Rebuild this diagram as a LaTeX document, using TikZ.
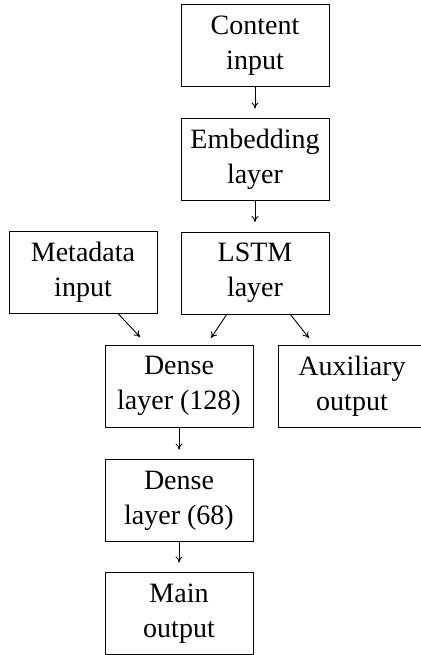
\documentclass[tikz,border=0pt]{standalone}
\usepackage{fontspec}
\setmainfont{Liberation Serif}
\usetikzlibrary{calc,arrows.meta}
\begin{document}
\begin{tikzpicture}[x=1pt,y=-1pt,
  layerbox/.style={draw,line width=1pt,minimum width=148pt,minimum height=82pt,inner sep=0pt,outer sep=0pt,align=center,font=\fontsize{28}{35}\selectfont},
  conn/.style={line width=0.9pt,-{To[length=6pt,width=7pt]}}]
\useasboundingbox (0,0) rectangle (420,655);
\node[layerbox] (content) at (255,46) {Content\\input};
\node[layerbox] (embed) at (255,159.5) {Embedding\\layer};
\node[layerbox] (lstm) at (255,273) {LSTM\\layer};
\node[layerbox] (meta) at (83,272.5) {Metadata\\input};
\node[layerbox] (dense1) at (179,386) {Dense\\layer (128)};
\node[layerbox] (aux) at (352,386) {Auxiliary\\output};
\node[layerbox] (dense2) at (179,500.5) {Dense\\layer (68)};
\node[layerbox] (mainout) at (179,613.5) {Main\\output};
\draw[conn,shorten >=10pt] (content.south) -- (embed.north);
\draw[conn,shorten >=10pt] (embed.south) -- (lstm.north);
\draw[conn,shorten >=10pt] (dense1.south) -- (dense2.north);
\draw[conn,shorten >=10pt] (dense2.south) -- (mainout.north);
\draw[conn] ($(meta.south)+(35pt,0pt)$) -- ($(dense1.north)+(-39pt,8pt)$);
\draw[conn] ($(lstm.south)+(-28pt,0pt)$) -- ($(dense1.north)+(32pt,7pt)$);
\draw[conn] ($(lstm.south)+(35pt,0pt)$) -- ($(aux.north)+(-43pt,7pt)$);
\end{tikzpicture}
\end{document}
